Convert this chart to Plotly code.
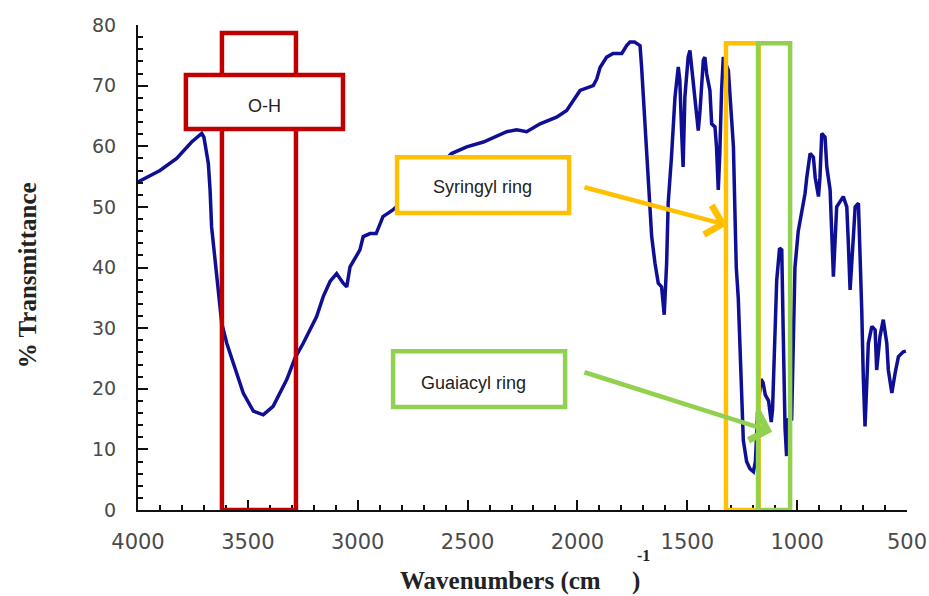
import plotly.graph_objects as go

# FTIR spectrum: wavenumber (cm^-1) and % transmittance
wavenumber = [
    4000, 3900, 3824, 3756, 3710, 3700, 3680, 3672, 3665, 3650, 3635, 3619,
    3596, 3566, 3521, 3475, 3430, 3385, 3323, 3285, 3248, 3187, 3157, 3126,
    3096, 3066, 3050, 3035, 2990, 2975, 2944, 2916, 2885, 2840, 2825, 2750,
    2650, 2573, 2504, 2428, 2322, 2277, 2231, 2170, 2095, 2049, 2019, 1988,
    1928, 1912, 1897, 1867, 1838, 1798, 1776, 1761, 1740, 1715, 1708, 1700,
    1693, 1685, 1673, 1662, 1647, 1632, 1617, 1605, 1594, 1587, 1572, 1556,
    1541, 1534, 1526, 1519, 1511, 1496, 1488, 1473, 1458, 1450, 1442, 1427,
    1420, 1412, 1397, 1389, 1374, 1367, 1359, 1352, 1344, 1336, 1313, 1298,
    1290, 1283, 1277, 1268, 1260, 1253, 1245, 1230, 1215, 1199, 1190, 1180,
    1165, 1155, 1145, 1130, 1118, 1112, 1102, 1093, 1080, 1070, 1063, 1055,
    1048, 1040, 1025, 1017, 1010, 995, 979, 964, 956, 941, 926, 918, 903,
    896, 888, 873, 865, 850, 835, 827, 820, 790, 774, 767, 759, 744, 736,
    721, 714, 706, 699, 691, 683, 676, 660, 645, 638, 623, 608, 592, 585,
    569, 554, 539, 517, 505,
]
transmittance = [
    54.1, 56.0, 58.0, 60.7, 62.1, 61.5, 57.2, 52.8, 46.7, 41.2, 35.2, 30.8,
    27.5, 24.2, 19.3, 16.3, 15.7, 17.1, 21.5, 25.1, 27.5, 31.9, 35.2, 37.7,
    39.0, 37.4, 36.8, 40.1, 42.9, 45.1, 45.6, 45.6, 48.4, 49.5, 50.0, 52.5,
    56.0, 58.8, 59.9, 60.7, 62.4, 62.7, 62.4, 63.7, 64.8, 65.9, 67.6, 69.2,
    70.0, 71.1, 73.0, 74.7, 75.3, 75.3, 76.6, 77.2, 77.2, 76.6, 73.1, 68.1,
    63.2, 57.2, 50.6, 45.1, 40.7, 37.4, 36.8, 32.2, 40.7, 50.6, 58.2, 68.1,
    73.1, 70.9, 62.6, 56.6, 68.1, 74.7, 75.8, 70.9, 65.4, 62.6, 65.9, 74.2,
    74.7, 72.0, 69.2, 63.7, 63.2, 59.9, 52.8, 58.8, 69.2, 74.7, 72.5, 65.4,
    59.9, 49.0, 40.0, 35.0, 27.5, 19.5, 11.5, 8.0, 6.8, 6.3, 8.0, 16.0,
    21.6, 21.0, 19.0, 18.0, 14.5, 16.5, 28.6, 37.9, 43.2, 42.9, 28.6, 13.5,
    8.9, 14.9, 15.0, 30.0, 40.0, 46.0, 49.5, 52.2, 54.9, 58.8, 58.2, 54.9, 51.7,
    54.9, 62.1, 61.5, 56.6, 52.8, 38.5, 44.0, 50.0, 51.7, 50.0, 44.0, 36.3, 45.1, 50.0,
    50.6, 44.0, 33.0, 22.0, 13.8, 20.9, 27.5, 30.3, 29.7, 23.1, 28.6, 31.4, 27.5, 23.1,
    19.3, 22.6, 25.3, 26.1, 26.2,
]

x_ticks = [4000, 3500, 3000, 2500, 2000, 1500, 1000, 500]
y_ticks = [0, 10, 20, 30, 40, 50, 60, 70, 80]

RED = "#C00000"
ORANGE = "#FFC000"
GREEN = "#92D050"
CURVE = "#0F0F96"
BOX_W = 4.5

fig = go.Figure()
fig.add_trace(go.Scatter(
    x=wavenumber, y=transmittance, mode="lines",
    line=dict(color=CURVE, width=3.5), hoverinfo="skip", showlegend=False,
))

fig.update_xaxes(
    range=[4000, 500], tickvals=x_ticks, ticktext=[str(v) for v in x_ticks],
    showline=True, linecolor="#111", linewidth=2, showgrid=False, zeroline=False,
    ticks="inside", ticklen=10, tickwidth=1.5, tickcolor="#111",
    minor=dict(ticks="inside", ticklen=5, tickwidth=1.5, tickcolor="#111",
               dtick=100, tick0=500, showgrid=False),
    tickfont=dict(family="DejaVu Sans", size=21, color="#4a4a4a"),
    ticklabelstandoff=12, automargin=False,
)
fig.update_yaxes(
    range=[0, 80], tickvals=y_ticks, showline=True, linecolor="#111",
    linewidth=2, showgrid=False, zeroline=False,
    ticks="inside", ticklen=10, tickwidth=1.5, tickcolor="#111",
    minor=dict(ticks="inside", ticklen=5, tickwidth=1.5, tickcolor="#111",
               dtick=2, tick0=0, showgrid=False),
    tickfont=dict(family="DejaVu Sans", size=19, color="#4a4a4a"),
    ticklabelstandoff=16, automargin=False,
)

shapes = [
    # O-H band
    dict(type="rect", x0=3618, x1=3281, y0=0, y1=78.7,
         line=dict(color=RED, width=BOX_W), layer="above"),
    dict(type="rect", x0=3782, x1=3067, y0=62.85, y1=71.75,
         line=dict(color=RED, width=BOX_W), fillcolor="white", layer="above"),
    # syringyl band
    dict(type="rect", x0=1324, x1=1175, y0=0, y1=77.0,
         line=dict(color=ORANGE, width=BOX_W), layer="above"),
    # guaiacyl band
    dict(type="rect", x0=1178, x1=1032, y0=0, y1=77.0,
         line=dict(color=GREEN, width=BOX_W), layer="above"),
    # label boxes
    dict(type="rect", x0=2821, x1=2038, y0=49.0, y1=58.2,
         line=dict(color=ORANGE, width=BOX_W), fillcolor="white", layer="above"),
    dict(type="rect", x0=2839, x1=2056, y0=17.0, y1=26.2,
         line=dict(color=GREEN, width=BOX_W), fillcolor="white", layer="above"),
]
fig.update_layout(shapes=shapes)

label_font = dict(family="Liberation Sans", size=18, color="#222")
annotations = [
    dict(x=3424, y=66.6, text="O-H", showarrow=False, font=label_font),
    dict(x=2430, y=53.2, text="Syringyl ring", showarrow=False, font=label_font),
    dict(x=2475, y=20.9, text="Guaiacyl ring", showarrow=False, font=label_font),
    # arrows
    dict(x=1319, y=47.0, ax=1975, ay=53.3, axref="x", ayref="y", text="",
         showarrow=True, arrowhead=4, arrowsize=1.3, arrowwidth=4.5,
         arrowcolor=ORANGE, standoff=0),
    dict(x=1114, y=12.9, ax=1975, ay=22.8, axref="x", ayref="y", text="",
         showarrow=True, arrowhead=4, arrowsize=1.3, arrowwidth=4.5,
         arrowcolor=GREEN, standoff=0),
    # axis titles
    dict(x=-0.1443, y=0.484, xref="paper", yref="paper",
         xanchor="center", yanchor="middle",
         text="<b>% Transmittance</b>", textangle=-90, showarrow=False,
         font=dict(family="Liberation Serif", size=25, color="#222")),
    dict(x=0.497, y=-0.1464, xref="paper", yref="paper",
         xanchor="center", yanchor="middle",
         text="<b>Wavenumbers (cm\u00a0\u00a0\u00a0\u00a0\u00a0)</b>", showarrow=False,
         font=dict(family="Liberation Serif", size=25, color="#222")),
    dict(x=0.657, y=-0.0928, xref="paper", yref="paper",
         xanchor="center", yanchor="middle",
         text="<b>-1</b>", showarrow=False,
         font=dict(family="Liberation Serif", size=16, color="#222")),
]
fig.update_layout(annotations=annotations)

fig.update_layout(
    width=929, height=596,
    margin=dict(l=138, r=22, t=25, b=86),
    paper_bgcolor="white", plot_bgcolor="white",
    showlegend=False,
)

fig.write_html("out.html")
